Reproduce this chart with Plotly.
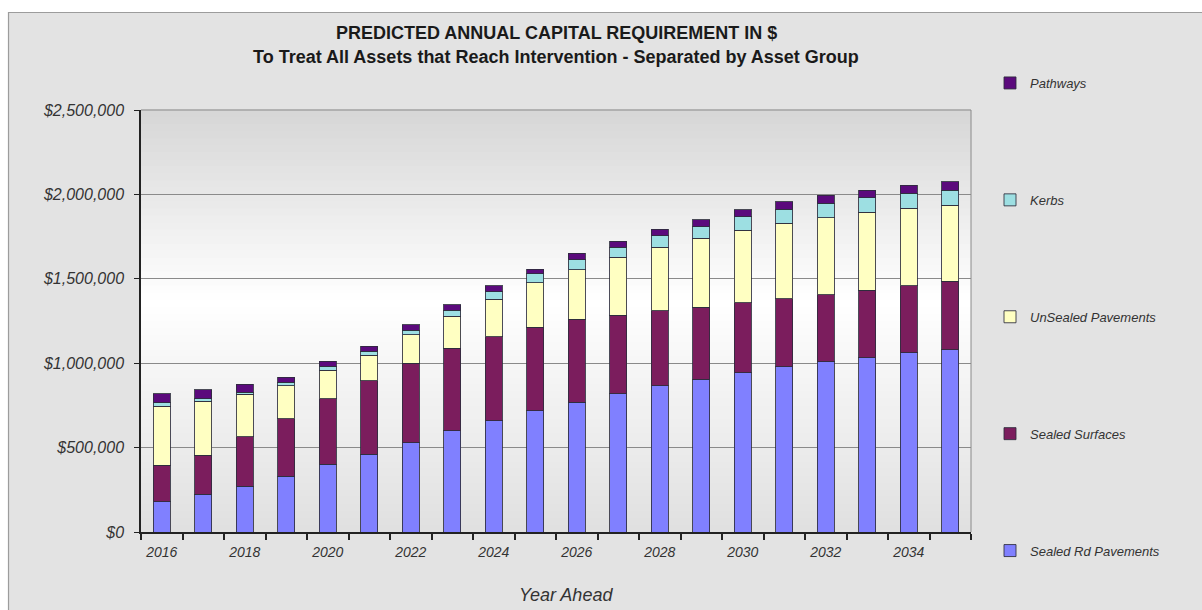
import plotly.graph_objects as go

# Capital requirement by year, in dollars, split by asset group
years = list(range(2016, 2036))
sealed_rd_pavements = [179000, 223000, 272000, 331000, 402000, 461000, 530000, 599000, 658000, 717000,
                       768000, 820000, 867000, 906000, 944000, 980000, 1008000, 1033000, 1063000, 1079000]
sealed_surfaces = [217000, 232000, 291000, 340000, 388000, 434000, 469000, 490000, 500000, 496000,
                   491000, 464000, 445000, 426000, 415000, 401000, 398000, 399000, 397000, 407000]
unsealed_pavements = [350000, 321000, 253000, 194000, 169000, 153000, 169000, 189000, 221000, 265000,
                      295000, 343000, 376000, 407000, 430000, 448000, 457000, 461000, 457000, 450000]
kerbs = [19000, 14000, 13000, 23000, 24000, 23000, 26000, 36000, 45000, 51000,
         58000, 59000, 67000, 69000, 80000, 83000, 85000, 87000, 89000, 89000]
pathways = [55000, 53000, 46000, 30000, 29000, 30000, 35000, 33000, 36000, 29000,
            39000, 36000, 38000, 42000, 39000, 44000, 48000, 45000, 49000, 50000]

series = [
    ("Sealed Rd Pavements", sealed_rd_pavements, "#8080ff"),
    ("Sealed Surfaces", sealed_surfaces, "#7b1d5d"),
    ("UnSealed Pavements", unsealed_pavements, "#ffffc2"),
    ("Kerbs", kerbs, "#9ddfe2"),
    ("Pathways", pathways, "#5b0a7c"),
]

y_ticks = [0, 500000, 1000000, 1500000, 2000000, 2500000]
y_tick_text = ["$" + f"{v:,}" for v in y_ticks]

W, H = 1202, 610
L, R, T, B = 141, 231, 110, 78
PW, PH = W - L - R, H - T - B


def px_x(px):
    return (px - L) / PW


def px_y(py):
    return (H - B - py) / PH


FONT = "Liberation Sans, Arial, sans-serif"

fig = go.Figure()
for i, (name, vals, color) in enumerate(series):
    fig.add_trace(go.Bar(
        x=years, y=vals, name=name, width=0.4,
        legendgroup=name, legendrank=100 - i,
        marker=dict(color=color, line=dict(color="rgba(45,45,60,0.85)", width=1)),
    ))

shapes = []
# grey chart frame
shapes.append(dict(type="rect", xref="paper", yref="paper",
                   x0=px_x(8.5), x1=px_x(W + 10), y0=px_y(H + 10), y1=px_y(12.5),
                   fillcolor="#e3e3e3", line=dict(color="#9c9c9c", width=1.2), layer="below"))

# vertical gradient in the plotting area
def lerp(a, b, t):
    return a + (b - a) * t

n = 60
for i in range(n):
    f0, f1 = i / n, (i + 1) / n
    fm = (f0 + f1) / 2
    if fm > 0.55:
        g = lerp(255, 214, (fm - 0.55) / 0.45)
    else:
        g = lerp(224, 255, fm / 0.55)
    g = int(round(g))
    shapes.append(dict(type="rect", xref="paper", yref="paper",
                       x0=0, x1=1, y0=f0, y1=f1 + 0.002,
                       fillcolor=f"rgb({g},{g},{g})", line=dict(width=0), layer="below"))

# top and right border of the plotting area
shapes.append(dict(type="line", xref="paper", yref="paper", x0=0, x1=1, y0=1, y1=1,
                   line=dict(color="#8a8a8a", width=1)))
shapes.append(dict(type="line", xref="paper", yref="paper", x0=1, x1=1, y0=0, y1=1,
                   line=dict(color="#8a8a8a", width=1)))

fig.update_layout(
    width=W, height=H,
    margin=dict(l=L, r=R, t=T, b=B, pad=0),
    paper_bgcolor="white",
    plot_bgcolor="rgba(0,0,0,0)",
    barmode="stack",
    shapes=shapes,
    font=dict(family=FONT, color="#333333"),
    showlegend=True,
    legend=dict(
        x=px_x(990), xanchor="left", y=px_y(68), yanchor="top",
        traceorder="grouped", tracegroupgap=97,
        maxheight=600,
        bgcolor="rgba(0,0,0,0)",
        font=dict(family=FONT, size=13, color="#333333", style="italic"),
    ),
    annotations=[
        dict(text="<b>PREDICTED ANNUAL CAPITAL REQUIREMENT IN $</b>",
             xref="paper", yref="paper", x=0.5, y=px_y(33), xanchor="center", yanchor="middle",
             showarrow=False, font=dict(family=FONT, size=18, color="#1a1a1a")),
        dict(text="<b>To Treat All Assets that Reach Intervention - Separated by Asset Group</b>",
             xref="paper", yref="paper", x=0.5, y=px_y(57), xanchor="center", yanchor="middle",
             showarrow=False, font=dict(family=FONT, size=18, color="#1a1a1a")),
        dict(text="Year Ahead",
             xref="paper", yref="paper", x=px_x(566), y=px_y(595), xanchor="center", yanchor="middle",
             showarrow=False, font=dict(family=FONT, size=18, color="#333333", style="italic")),
    ],
)

fig.update_xaxes(
    range=[2015.5, 2035.5],
    tickmode="linear", tick0=2016, dtick=2,
    ticks="", showgrid=False, zeroline=False,
    showline=True, linecolor="#222222", linewidth=1.5,
    ticklabelstandoff=6,
    tickfont=dict(family=FONT, size=14, color="#333333", style="italic"),
    minor=dict(tickmode="linear", tick0=2015.5, dtick=1, ticks="outside",
               ticklen=6, tickcolor="#222222", tickwidth=1.5, showgrid=False),
)

fig.update_yaxes(
    range=[0, 2500000],
    tickmode="array", tickvals=y_ticks, ticktext=y_tick_text,
    ticks="outside", ticklen=5, tickcolor="#222222", tickwidth=1,
    showgrid=True, gridcolor="#8a8a8a", gridwidth=1,
    zeroline=False,
    showline=True, linecolor="#222222", linewidth=1.5,
    ticklabelstandoff=7,
    tickfont=dict(family=FONT, size=16, color="#333333", style="italic"),
)

fig.write_html("out.html")
